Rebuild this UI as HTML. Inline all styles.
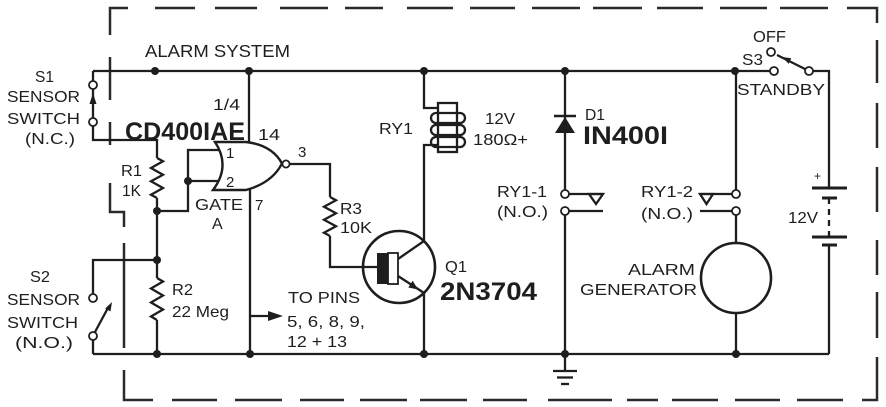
<!DOCTYPE html>
<html>
<head>
<meta charset="utf-8">
<style>
html,body{margin:0;padding:0;background:#fff;}
svg{display:block;}
text{font-family:"Liberation Sans",Arial,sans-serif;fill:#1e1e1e;}
</style>
</head>
<body>
<svg width="886" height="407" viewBox="0 0 886 407" xmlns="http://www.w3.org/2000/svg">
<rect width="886" height="407" fill="#fff"/>

<!-- dashed border -->
<g stroke="#2a2a2a" stroke-width="2.5" fill="none" stroke-linecap="butt">
  <path d="M110,35 L110,8 L128,8"/>
  <line x1="155" y1="8" x2="195" y2="8"/>
  <line x1="215" y1="8" x2="257" y2="8"/>
  <line x1="280" y1="8" x2="328" y2="8"/>
  <line x1="345" y1="8" x2="383" y2="8"/>
  <line x1="407" y1="8" x2="453" y2="8"/>
  <line x1="470" y1="8" x2="515" y2="8"/>
  <line x1="532" y1="8" x2="580" y2="8"/>
  <line x1="593" y1="8" x2="642" y2="8"/>
  <line x1="657" y1="8" x2="703" y2="8"/>
  <line x1="720" y1="8" x2="767" y2="8"/>
  <line x1="780" y1="8" x2="828" y2="8"/>
  <path d="M847,8 L877,8 L877,23"/>
  <line x1="877" y1="40" x2="877" y2="83"/>
  <line x1="877" y1="103" x2="877" y2="148"/>
  <line x1="877" y1="167" x2="877" y2="212"/>
  <line x1="877" y1="240" x2="877" y2="275"/>
  <line x1="877" y1="292" x2="877" y2="338"/>
  <path d="M877,357 L877,400 L862,400"/>
  <line x1="843" y1="400" x2="797" y2="400"/>
  <line x1="780" y1="400" x2="735" y2="400"/>
  <line x1="718" y1="400" x2="672" y2="400"/>
  <line x1="658" y1="400" x2="627" y2="400"/>
  <line x1="612" y1="400" x2="548" y2="400"/>
  <line x1="527" y1="400" x2="483" y2="400"/>
  <line x1="467" y1="400" x2="420" y2="400"/>
  <line x1="407" y1="400" x2="360" y2="400"/>
  <line x1="344" y1="400" x2="300" y2="400"/>
  <line x1="282" y1="400" x2="235" y2="400"/>
  <line x1="217" y1="400" x2="172" y2="400"/>
  <path d="M153,400 L124,400 L124,370"/>
  <line x1="124" y1="348" x2="124" y2="243"/>
  <path d="M124,227 L124,212 L110,212 L110,183"/>
  <line x1="110" y1="145" x2="110" y2="122"/>
  <line x1="110" y1="100" x2="110" y2="57"/>
</g>

<!-- wires -->
<g stroke="#1e1e1e" stroke-width="2.3" fill="none" stroke-linejoin="miter">
  <!-- top rail -->
  <line x1="93" y1="71" x2="770" y2="71"/>
  <!-- S1 -->
  <line x1="93" y1="71" x2="93" y2="81"/>
  <line x1="93" y1="89" x2="93" y2="118"/>
  <path d="M93,126 L93,140 L157,140 L157,158"/>
  <!-- R1 -->
  <polyline points="157,158 163,161.3 151,168 163,174.7 151,181.3 163,188 151,194.7 157,198"/>
  <line x1="157" y1="198" x2="157" y2="278"/>
  <!-- R2 -->
  <polyline points="157,278 163,281.5 151,288.5 163,295.5 151,302.5 163,309.5 151,316.5 157,320"/>
  <line x1="157" y1="320" x2="157" y2="354"/>
  <!-- gate input loop -->
  <path d="M157,211 L188,211 L188,150 L222,150"/>
  <line x1="188" y1="181" x2="222" y2="181"/>
  <!-- S2 -->
  <path d="M157,260 L93,260 L93,294"/>
  <line x1="93" y1="340" x2="93" y2="354"/>
  <line x1="95" y1="332" x2="109" y2="306"/>
  <!-- bottom rail -->
  <line x1="93" y1="354" x2="829" y2="354"/>
  <!-- pin 14 / pin 7 -->
  <line x1="249" y1="71" x2="249" y2="143"/>
  <line x1="250" y1="189" x2="250" y2="354"/>
  <line x1="250" y1="316" x2="270" y2="316"/>
  <!-- output -->
  <path d="M290,164 L330,164 L330,197"/>
  <polyline points="330,197 336,200.3 324,206.8 336,213.3 324,219.8 336,226.3 324,232.8 330,236"/>
  <path d="M330,236 L330,267 L377,267"/>
  <!-- transistor -->
  <circle cx="399" cy="267" r="36" stroke-width="2.6"/>
  <line x1="398" y1="259" x2="424" y2="241"/>
  <line x1="398" y1="276" x2="418" y2="289"/>
  <line x1="418" y1="289" x2="424" y2="293"/>
  <line x1="424" y1="293" x2="424" y2="354"/>
  <!-- relay RY1 -->
  <path d="M424,71 L424,108 L438,108"/>
  <path d="M438,145 L424,145 L424,241"/>
  <rect x="438" y="103" width="19" height="49"/>
  <rect x="431" y="113" width="34" height="10" rx="5"/>
  <rect x="431" y="125" width="34" height="10" rx="5"/>
  <rect x="431" y="137" width="34" height="10" rx="5"/>
  <!-- diode line -->
  <line x1="565" y1="71" x2="565" y2="190"/>
  <line x1="554" y1="116" x2="576" y2="116" stroke-width="2.6"/>
  <!-- RY1-1 -->
  <line x1="569" y1="194" x2="603" y2="194"/>
  <polygon points="589,194 603,194 596,204"/>
  <line x1="569" y1="211" x2="603" y2="211"/>
  <line x1="565" y1="215" x2="565" y2="371"/>
  <!-- ground -->
  <line x1="553" y1="371" x2="577" y2="371"/>
  <line x1="557" y1="377.5" x2="573" y2="377.5"/>
  <line x1="561" y1="384" x2="569" y2="384"/>
  <!-- RY1-2 -->
  <line x1="736" y1="71" x2="736" y2="190"/>
  <line x1="732" y1="194" x2="700" y2="194"/>
  <polygon points="700,194 713,194 706.5,204"/>
  <line x1="732" y1="211" x2="700" y2="211"/>
  <line x1="736" y1="215" x2="736" y2="243"/>
  <circle cx="736" cy="278" r="35" stroke-width="2.6"/>
  <line x1="736" y1="313" x2="736" y2="354"/>
  <!-- S3 -->
  <line x1="805" y1="69" x2="777" y2="55"/>
  <path d="M813,71 L829,71 L829,188"/>
  <!-- battery -->
  <line x1="812" y1="188" x2="847" y2="188" stroke-width="3"/>
  <line x1="822" y1="198" x2="837" y2="198" stroke-width="3"/>
  <line x1="829" y1="198" x2="829" y2="237" stroke-dasharray="6 5"/>
  <line x1="812" y1="237" x2="847" y2="237" stroke-width="3"/>
  <line x1="822" y1="245" x2="837" y2="245" stroke-width="3"/>
  <line x1="829" y1="245" x2="829" y2="354"/>
</g>

<!-- gate body -->
<path d="M215,142 L246,142 Q272,145 282,163.5 Q272,183 246,190 L213,190 Q231,166 215,142 Z" fill="#fff" stroke="#1e1e1e" stroke-width="2.4"/>
<circle cx="286" cy="164" r="3.6" fill="#fff" stroke="#1e1e1e" stroke-width="1.8"/>

<!-- filled parts -->
<g fill="#1e1e1e" stroke="none">
  <polygon points="93,93 89.5,104 96.5,104"/>
  <polygon points="112,302 110.5,311.4 105.2,308.6"/>
  <polygon points="268,311 283,316 268,321"/>
  <polygon points="418,289.5 412.7,280.8 408.3,287.5"/>
  <polygon points="565,117 555,133 575,133"/>
  <polygon points="782,57 791.3,58.3 788.7,63.7"/>
  <rect x="377" y="253" width="11" height="31"/>
  <circle cx="155" cy="71" r="4"/>
  <circle cx="249" cy="71" r="4"/>
  <circle cx="424" cy="71" r="4"/>
  <circle cx="565" cy="71" r="4"/>
  <circle cx="735" cy="71" r="4"/>
  <circle cx="188" cy="181" r="4"/>
  <circle cx="157" cy="211" r="4"/>
  <circle cx="157" cy="260" r="4"/>
  <circle cx="157" cy="354" r="4"/>
  <circle cx="250" cy="354" r="4"/>
  <circle cx="424" cy="354" r="4"/>
  <circle cx="565" cy="354" r="4"/>
  <circle cx="736" cy="354" r="4"/>
</g>
<rect x="388" y="253" width="10" height="31" fill="#fff" stroke="#1e1e1e" stroke-width="1.8"/>

<!-- open contacts -->
<g fill="#fff" stroke="#1e1e1e" stroke-width="1.8">
  <circle cx="93" cy="85" r="4"/>
  <circle cx="93" cy="122" r="4"/>
  <circle cx="93" cy="298" r="4"/>
  <circle cx="93" cy="336" r="4"/>
  <circle cx="565" cy="194" r="4"/>
  <circle cx="565" cy="211" r="4"/>
  <circle cx="736" cy="194" r="4"/>
  <circle cx="736" cy="211" r="4"/>
  <circle cx="774" cy="71" r="4"/>
  <circle cx="771" cy="52" r="4"/>
  <circle cx="809" cy="71" r="4"/>
</g>

<!-- labels -->
<g font-size="16">
  <text x="145" y="57" font-size="17.5" textLength="145" lengthAdjust="spacingAndGlyphs">ALARM SYSTEM</text>
  <text x="35" y="82" textLength="19" lengthAdjust="spacingAndGlyphs">S1</text>
  <text x="7" y="102" textLength="73" lengthAdjust="spacingAndGlyphs">SENSOR</text>
  <text x="7" y="124" textLength="73" lengthAdjust="spacingAndGlyphs">SWITCH</text>
  <text x="25" y="144" textLength="50" lengthAdjust="spacingAndGlyphs">(N.C.)</text>
  <text x="213" y="110" textLength="27" lengthAdjust="spacingAndGlyphs">1/4</text>
  <text x="125" y="140" font-size="25" font-weight="bold" textLength="120" lengthAdjust="spacingAndGlyphs">CD400IAE</text>
  <text x="258" y="140" textLength="22" lengthAdjust="spacingAndGlyphs">14</text>
  <text x="226" y="158" font-size="15">1</text>
  <text x="226" y="187" font-size="15">2</text>
  <text x="298" y="157" font-size="15">3</text>
  <text x="195" y="210" textLength="48" lengthAdjust="spacingAndGlyphs">GATE</text>
  <text x="255" y="210" font-size="15">7</text>
  <text x="212" y="229">A</text>
  <text x="121" y="176" textLength="21" lengthAdjust="spacingAndGlyphs">R1</text>
  <text x="122" y="196" textLength="19" lengthAdjust="spacingAndGlyphs">1K</text>
  <text x="172" y="295" textLength="21" lengthAdjust="spacingAndGlyphs">R2</text>
  <text x="172" y="317" textLength="57" lengthAdjust="spacingAndGlyphs">22 Meg</text>
  <text x="30" y="282" textLength="20" lengthAdjust="spacingAndGlyphs">S2</text>
  <text x="7" y="305" textLength="73" lengthAdjust="spacingAndGlyphs">SENSOR</text>
  <text x="7" y="328" textLength="71" lengthAdjust="spacingAndGlyphs">SWITCH</text>
  <text x="15" y="348" textLength="58" lengthAdjust="spacingAndGlyphs">(N.O.)</text>
  <text x="340" y="214" textLength="22" lengthAdjust="spacingAndGlyphs">R3</text>
  <text x="340" y="233" textLength="32" lengthAdjust="spacingAndGlyphs">10K</text>
  <text x="445" y="272" textLength="22" lengthAdjust="spacingAndGlyphs">Q1</text>
  <text x="440" y="300" font-size="25" font-weight="bold" textLength="97" lengthAdjust="spacingAndGlyphs">2N3704</text>
  <text x="288" y="303" textLength="72" lengthAdjust="spacingAndGlyphs">TO PINS</text>
  <text x="287" y="327" textLength="78" lengthAdjust="spacingAndGlyphs">5, 6, 8, 9,</text>
  <text x="287" y="347" textLength="60" lengthAdjust="spacingAndGlyphs">12 + 13</text>
  <text x="379" y="134" textLength="34" lengthAdjust="spacingAndGlyphs">RY1</text>
  <text x="485" y="124" textLength="30" lengthAdjust="spacingAndGlyphs">12V</text>
  <text x="473" y="145" textLength="55" lengthAdjust="spacingAndGlyphs">180Ω+</text>
  <text x="585" y="120" textLength="20" lengthAdjust="spacingAndGlyphs">D1</text>
  <text x="583" y="144" font-size="25" font-weight="bold" textLength="85" lengthAdjust="spacingAndGlyphs">IN400I</text>
  <text x="497" y="197" textLength="50" lengthAdjust="spacingAndGlyphs">RY1-1</text>
  <text x="497" y="217" textLength="51" lengthAdjust="spacingAndGlyphs">(N.O.)</text>
  <text x="641" y="197" textLength="52" lengthAdjust="spacingAndGlyphs">RY1-2</text>
  <text x="641" y="219" textLength="52" lengthAdjust="spacingAndGlyphs">(N.O.)</text>
  <text x="753" y="42" textLength="33" lengthAdjust="spacingAndGlyphs">OFF</text>
  <text x="742" y="65" textLength="21" lengthAdjust="spacingAndGlyphs">S3</text>
  <text x="737" y="95" textLength="88" lengthAdjust="spacingAndGlyphs">STANDBY</text>
  <text x="814" y="180" font-size="12">+</text>
  <text x="788" y="223" textLength="30" lengthAdjust="spacingAndGlyphs">12V</text>
  <text x="628" y="275" textLength="67" lengthAdjust="spacingAndGlyphs">ALARM</text>
  <text x="580" y="295" textLength="117" lengthAdjust="spacingAndGlyphs">GENERATOR</text>
</g>
</svg>
</body>
</html>
